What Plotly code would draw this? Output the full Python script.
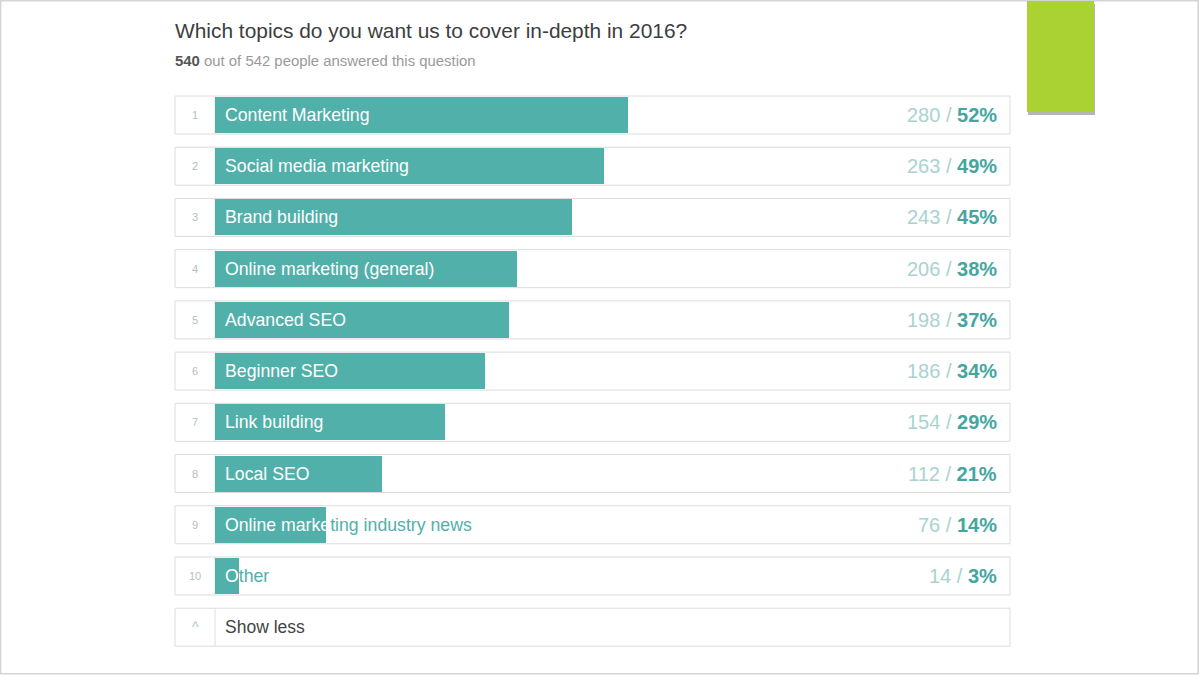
import plotly.graph_objects as go

# ---- data ----
topics = ["Content Marketing", "Social media marketing", "Brand building",
          "Online marketing (general)", "Advanced SEO", "Beginner SEO",
          "Link building", "Local SEO", "Online marketing industry news", "Other"]
counts = [280, 263, 243, 206, 198, 186, 154, 112, 76, 14]
percents = [52, 49, 45, 38, 37, 34, 29, 21, 14, 3]
ranks = list(range(1, len(topics) + 1))
title_text = "Which topics do you want us to cover in-depth in 2016?"
answered, total = 540, 542

# ---- layout geometry (pixels) ----
W, H = 1200, 675
X0_PX, PX_PER_PCT = 215, 7.94        # 0% .. 100% -> 215 .. 1009 px
ROW0_PX, PITCH = 115, 51.22          # centre of first row, row pitch
BOX_L, BOX_R = 175, 1010
BOX_H, BAR_H = 38 / PITCH, 36 / PITCH

def px2x(px):
    return (px - X0_PX) / PX_PER_PCT

def px2y(py):
    return 1 + (py - ROW0_PX) / PITCH

TEAL = "#52b0aa"
TEAL_DARK = "#45a6a0"
COUNT_C = "#a9d3cf"
FONT = "Liberation Sans, Arial, sans-serif"
LABEL_SIZE = 17.7

# Arial-ish character widths (em) to split label colour at the bar end
CW = {' ': .278, '(': .333, ')': .333, '-': .333}
for c in "abdeghnopqu": CW[c] = .556
for c in "cksvxyz": CW[c] = .5
for c in "ijl": CW[c] = .222
CW.update({'f': .278, 't': .278, 'r': .333})
CW.update({'m': .833, 'w': .722, 'O': .778, 'S': .667, 'E': .667, 'B': .667,
           'C': .722, 'M': .833, 'A': .667, 'L': .556})

def split_label(label, bar_px):
    avail = bar_px - 10
    acc = 0.0
    for i, ch in enumerate(label):
        w = CW.get(ch, .556) * LABEL_SIZE
        if acc + w / 2 > avail:
            return label[:i], label[i:]
        acc += w
    return label, ""

fig = go.Figure()

shapes = []
annotations = []

# page frame
shapes.append(dict(type="rect", xref="paper", yref="paper", x0=0.0005, x1=0.9985,
                   y0=0.002, y1=0.999, line=dict(color="#d4d4d4", width=1.5),
                   fillcolor="rgba(0,0,0,0)", layer="below"))

# row boxes
n_rows = len(topics) + 1
for r in range(1, n_rows + 1):
    shapes.append(dict(type="rect", xref="x", yref="y",
                       x0=px2x(BOX_L), x1=px2x(BOX_R),
                       y0=r - BOX_H / 2, y1=r + BOX_H / 2,
                       line=dict(color="#dcdcdc", width=1), fillcolor="white",
                       layer="below"))
    shapes.append(dict(type="line", xref="x", yref="y", x0=0, x1=0,
                       y0=r - BOX_H / 2, y1=r + BOX_H / 2,
                       line=dict(color="#e0e0e0", width=1), layer="below"))

# bars
fig.add_trace(go.Bar(
    y=ranks, x=percents, base=0, orientation="h", width=BAR_H,
    marker=dict(color=TEAL, line=dict(width=0)),
    hoverinfo="skip", showlegend=False))

for r, lab, cnt, pct in zip(ranks, topics, counts, percents):
    # rank number
    annotations.append(dict(x=px2x(195), y=r, xref="x", yref="y", text=str(r),
                            showarrow=False, xanchor="center", yanchor="middle",
                            font=dict(family=FONT, size=11, color="#b3c0bf")))
    # label, white over the bar and teal outside it
    white_part, teal_part = split_label(lab, pct * PX_PER_PCT)
    txt = ""
    if white_part:
        txt += f"<span style='color:white'>{white_part}</span>"
    if teal_part:
        txt += f"<span style='color:{TEAL}'>{teal_part}</span>"
    annotations.append(dict(x=0, y=r, xref="x", yref="y", text=txt, xshift=8,
                            showarrow=False, xanchor="left", yanchor="middle",
                            font=dict(family=FONT, size=LABEL_SIZE, color="white")))
    # count / percent
    annotations.append(dict(x=px2x(999), y=r, xref="x", yref="y",
                            text=f"<span style='color:{COUNT_C}'>{cnt} / </span><b>{pct}%</b>",
                            showarrow=False, xanchor="right", yanchor="middle",
                            font=dict(family=FONT, size=20, color=TEAL_DARK)))

# show less row
annotations.append(dict(x=px2x(195), y=n_rows, xref="x", yref="y", text="^",
                        showarrow=False, xanchor="center", yanchor="middle",
                        font=dict(family=FONT, size=14, color="#a9c9c6")))
annotations.append(dict(x=0, y=n_rows, xref="x", yref="y", text="Show less", xshift=8,
                        showarrow=False, xanchor="left", yanchor="middle",
                        font=dict(family=FONT, size=17.5, color="#444444")))

# title and subtitle
annotations.append(dict(x=px2x(173), y=px2y(30), xref="x", yref="y", text=title_text,
                        showarrow=False, xanchor="left", yanchor="middle",
                        font=dict(family=FONT, size=20.9, color="#3d3d3d")))
annotations.append(dict(x=px2x(173), y=px2y(61), xref="x", yref="y",
                        text=f"<b style='color:#555555'>{answered}</b> out of {total} people answered this question",
                        showarrow=False, xanchor="left", yanchor="middle",
                        font=dict(family=FONT, size=14.9, color="#9a9a9a")))

# green tab with shadow
shapes.append(dict(type="rect", xref="x", yref="y", x0=px2x(1028), x1=px2x(1095),
                   y0=px2y(4), y1=px2y(115), line=dict(width=0),
                   fillcolor="rgba(90,90,90,0.45)", layer="above"))
shapes.append(dict(type="rect", xref="x", yref="y", x0=px2x(1027), x1=px2x(1094),
                   y0=px2y(1), y1=px2y(112), line=dict(width=0),
                   fillcolor="#abd233", layer="above"))

fig.update_layout(
    width=W, height=H,
    margin=dict(l=0, r=0, t=0, b=0),
    paper_bgcolor="white", plot_bgcolor="white",
    xaxis=dict(range=[px2x(0), px2x(W)], visible=False, fixedrange=True),
    yaxis=dict(range=[px2y(H), px2y(0)], visible=False, fixedrange=True),
    shapes=shapes, annotations=annotations,
    bargap=0, showlegend=False,
)

fig.write_html("out.html")
